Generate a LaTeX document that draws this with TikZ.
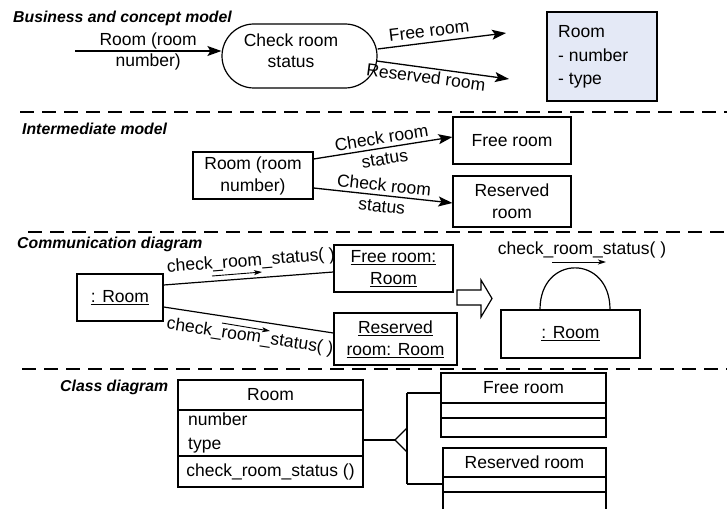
\documentclass[tikz,border=0pt]{standalone}
\usepackage{fontspec}
\setmainfont{Liberation Sans}
\usetikzlibrary{arrows.meta,calc,shapes.misc}

\definecolor{notefill}{RGB}{228,233,246}

\tikzset{
  lbl/.style={font=\fontsize{17.5}{21}\selectfont, inner sep=0pt, align=center},
  ttl/.style={font=\fontsize{15.8}{19}\selectfont\bfseries\itshape, inner sep=0pt, anchor=west},
  box/.style={draw, line width=1.2pt, inner sep=0pt, align=center,
              font=\fontsize{17.5}{22}\selectfont},
  flow/.style={line width=1.3pt, -{Stealth[length=14pt,width=10pt,inset=3pt]}},
  msg/.style={line width=0.9pt, -{Stealth[length=8pt,width=5pt,inset=2pt]}},
  sepline/.style={line width=1.5pt, dash pattern=on 14pt off 8pt},
  link/.style={line width=1.2pt},
}

\begin{document}
\begin{tikzpicture}[x=1pt,y=-1pt]
\useasboundingbox (0,0) rectangle (727,508);
\clip (0,0) rectangle (727,508);

% ---------- business and concept model ----------
\node[ttl] (t1) at (13,18.5) {Business and concept model};
\node[draw, line width=1.2pt, rounded rectangle, minimum width=155pt,
      minimum height=64pt, inner sep=0pt] (st) at (299.5,56) {};
\node[lbl] (stt) at (291,51) {Check room\\status};
\coordinate (in1) at (75,51);
\draw[flow] (in1) -- node[lbl] (inl) {Room (room\\number)} (in1 -| st.west);
\coordinate (o1) at (506,33);
\coordinate (o2) at (509,79);
\draw[flow] ($(st.east)+(0,-7)$) -- (o1);
\draw[flow] ($(st.east)+(-1,5)$) -- (o2);
\node[lbl, rotate=7] (fl) at (429,31) {Free room};
\node[lbl, rotate=-7.5] (rl) at (426,77) {Reserved room};
\node[box, fill=notefill, minimum width=110pt, minimum height=89pt] (note) at (602,56.5) {};
\node[lbl, align=left, anchor=west, font=\fontsize{17.5}{23.5}\selectfont] (notet) at (558,57)
  {Room\\- number\\- type};

\draw[sepline] (20,112) -- (727,112);

% ---------- intermediate model ----------
\node[ttl] (t2) at (22,128.5) {Intermediate model};
\node[box, minimum width=120pt, minimum height=47pt] (ia) at (253,175.5) {Room (room\\number)};
\node[box, minimum width=118pt, minimum height=47pt] (ifr) at (512,140.5) {Free room};
\node[box, minimum width=118pt, minimum height=51pt] (irr) at (512,201.5) {Reserved\\room};
\draw[flow] ($(ia.east)+(0,-16.5)$) -- node[lbl, sloped] (il1) {Check room\\status} ($(ifr.west)+(0,-3.5)$);
\draw[flow] ($(ia.east)+(0,12.5)$) -- node[lbl, sloped] (il2) {Check room\\status} ($(irr.west)+(0,1.5)$);

\draw[sepline] (28,232) -- (727,232);

% ---------- communication diagram ----------
\node[ttl] (t3) at (17,244) {Communication diagram};
\node[box, minimum width=86pt, minimum height=47pt] (c1) at (120,297.5) {\underline{: Room}};
\node[box, minimum width=119pt, minimum height=47pt] (cfr) at (393.5,268.5)
  {\underline{Free room:}\\\underline{Room}};
\node[box, minimum width=123pt, minimum height=52pt] (crr) at (395.5,339)
  {\underline{Reserved}\\\underline{room: Room}};
\draw[link] ($(c1.east)+(0,-12.5)$) -- ($(cfr.west)+(0,3.5)$);
\draw[link] ($(c1.east)+(0,9.5)$) -- ($(crr.west)+(0,-6)$);
\node[lbl, rotate=4.3] (m1) at (251,261.5) {check\_room\_status( )};
\node[lbl, rotate=-8.6] (m2) at (250,337) {check\_room\_status( )};
\coordinate (a1s) at (212,276); \coordinate (a1e) at (262,272);
\coordinate (a2s) at (222,323); \coordinate (a2e) at (270,331);
\draw[msg] (a1s) -- (a1e);
\draw[msg] (a2s) -- (a2e);

% hollow transition arrow
\draw[line width=1.2pt, fill=white] (457,290) -- (481,290) -- (481,280) -- (492,298.5)
  -- (481,317) -- (481,305) -- (457,305) -- cycle;

\node[box, minimum width=139pt, minimum height=48pt] (c2) at (570.5,334) {\underline{: Room}};
\draw[link] ($(c2.north)+(-30.5,0)$) .. controls (540,254) and (610,254) .. ($(c2.north)+(39.5,0)$);
\node[lbl] (m3) at (582,250) {check\_room\_status( )};
\coordinate (a3s) at (552,262); \coordinate (a3e) at (606,262);
\draw[msg] (a3s) -- (a3e);

\draw[sepline] (22,369) -- (727,369);

% ---------- class diagram ----------
\node[ttl] (t4) at (60,387) {Class diagram};
\node[box, minimum width=185pt, minimum height=30pt] (rh) at (270.5,395) {Room};
\node[box, minimum width=185pt, minimum height=46pt] (ra) at (270.5,433) {};
\node[box, minimum width=185pt, minimum height=31pt] (ro) at (270.5,471.5) {check\_room\_status ()};
\node[lbl, align=left, anchor=west, font=\fontsize{17.5}{23.5}\selectfont] (rat) at (188,433)
  {number\\type};

\node[box, minimum width=165pt, minimum height=30pt] (fh) at (523.5,388) {Free room};
\node[box, minimum width=165pt, minimum height=15pt] (fm) at (523.5,410.5) {};
\node[box, minimum width=165pt, minimum height=19pt] (fb) at (523.5,427.5) {};

\node[box, minimum width=163pt, minimum height=29pt] (vh) at (524.5,462.5) {Reserved room};
\node[box, minimum width=163pt, minimum height=15pt] (vm) at (524.5,484.5) {};
\node[box, minimum width=163pt, minimum height=33pt] (vb) at (524.5,508.5) {};

% generalisation connector
\coordinate (tip) at (395,440);
\coordinate (jt) at (407,393);
\coordinate (jb) at (407,484);
\draw[link] ($(ra.east)+(0,7)$) -- (tip);
\draw[link, line join=miter] (tip) -- (407,428) -- (407,452) -- cycle;
\draw[link] (jt) -- (jb);
\draw[link] (jt) -- (jt -| fh.west);
\draw[link] (jb) -- (jb -| vm.west);
\end{tikzpicture}
\end{document}
